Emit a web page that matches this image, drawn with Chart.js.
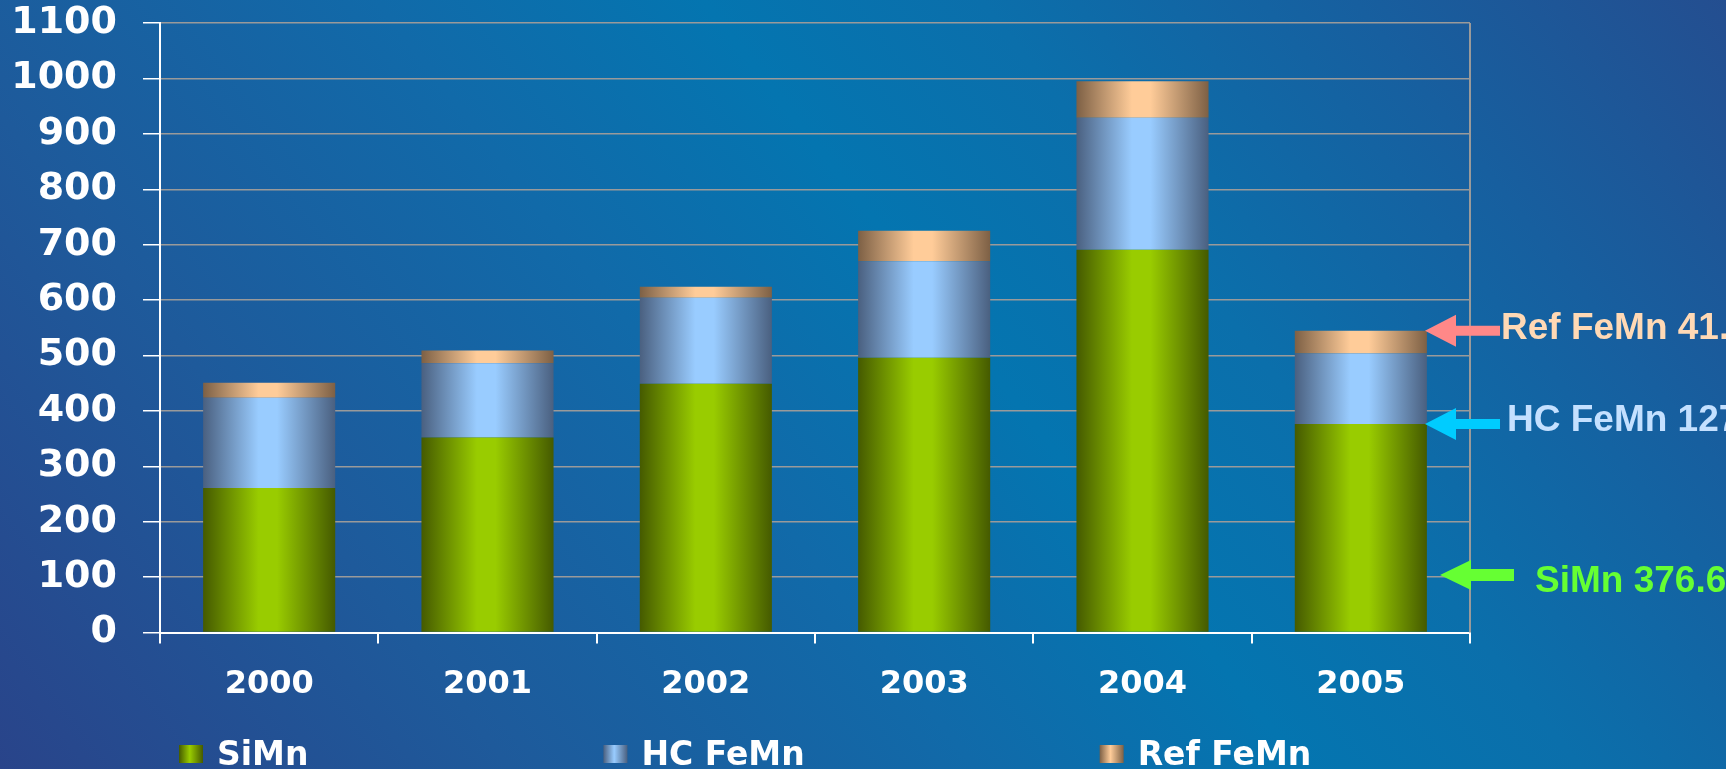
<!DOCTYPE html>
<html>
<head>
<meta charset="utf-8">
<script src="https://cdn.jsdelivr.net/npm/chart.js@4.4.0/dist/chart.umd.min.js"></script>
<style>
  html, body { margin: 0; padding: 0; }
  body {
    width: 1726px; height: 769px; overflow: hidden;
    background: linear-gradient(52deg, #29448a 0%, #1e5a9b 22%, #116aa9 42%, #0475b0 56%, #0b6fab 68%, #175f9f 84%, #244e90 100%);
  }
  canvas { display: block; }
</style>
</head>
<body>
<canvas id="chart" width="1726" height="769"></canvas>
<script>
// years on the x axis
const years = ["2000", "2001", "2002", "2003", "2004", "2005"];
// stacked series (thousand tonnes)
const siMn = [261, 352, 449, 496, 691, 376.6];
const hcFeMn = [163, 134, 155, 174, 238, 127];
const refFeMn = [27, 23, 20, 55, 66, 41];
const seriesNames = ["SiMn", "HC FeMn", "Ref FeMn"];
// y axis range
const yMax = 1100;
const yStep = 100;
// call-out texts on the right, and the value each arrow points at
const calloutTexts = ["Ref FeMn 41.", "HC FeMn 127", "SiMn 376.6"];
const calloutValues = [siMn[5] + hcFeMn[5] + refFeMn[5], siMn[5], 104];

const BAR_FRACTION = 0.605;
const shades = [
    ["#455a00", "#99cc00"],   // green
    ["#4a6080", "#99ccff"],   // blue
    ["#7d6045", "#ffcc99"],   // peach
];
const boldFont = "DejaVu Sans";

// horizontal gradient across a single bar, so it looks like a cylinder
function barFill(pair) {
    return (ctx) => {
        const chart = ctx.chart;
        const x = chart.scales.x;
        if (!chart.chartArea || !x || ctx.dataIndex === undefined) return pair[1];
        const center = x.getPixelForValue(ctx.dataIndex);
        const half = (chart.chartArea.width / years.length) * BAR_FRACTION / 2;
        const g = chart.ctx.createLinearGradient(center - half, 0, center + half, 0);
        g.addColorStop(0, pair[0]);
        g.addColorStop(0.42, pair[1]);
        g.addColorStop(0.56, pair[1]);
        g.addColorStop(1, pair[0]);
        return g;
    };
}

//right border, arrows with call-outs, legend
const extras = {
    id: "extras",
    afterDraw(chart) {
        const c = chart.ctx;
        const area = chart.chartArea;
        const y = chart.scales.y;
        const R = area.right;
        c.save();

        // right border of the plot
        c.strokeStyle = "#9a9a9a";
        c.lineWidth = 2;
        c.beginPath();
        c.moveTo(R, area.top);
        c.lineTo(R, area.bottom);
        c.stroke();

        const arrows = [
            { tip: R - 45, back: R - 14, end: R + 30, sh: 5, hh: 16, color: "#ff8888", text: "#ffd9b5", tx: R + 31, dy: -2 },
            { tip: R - 45, back: R - 14, end: R + 30, sh: 5, hh: 16, color: "#00ccff", text: "#c4e0ff", tx: R + 37, dy: -3 },
            { tip: R - 30, back: R + 1, end: R + 44, sh: 6, hh: 15, color: "#66ff33", text: "#66ff33", tx: R + 65, dy: 7 },
        ];
        arrows.forEach((a, i) => {
            const py = y.getPixelForValue(calloutValues[i]);
            c.fillStyle = a.color;
            c.beginPath();
            c.moveTo(a.tip, py);
            c.lineTo(a.back, py - a.hh);
            c.lineTo(a.back, py - a.sh);
            c.lineTo(a.end, py - a.sh);
            c.lineTo(a.end, py + a.sh);
            c.lineTo(a.back, py + a.sh);
            c.lineTo(a.back, py + a.hh);
            c.closePath();
            c.fill();
            c.fillStyle = a.text;
            c.font = "bold 37px 'Liberation Sans'";
            c.textBaseline = "middle";
            c.textAlign = "left";
            c.fillText(calloutTexts[i], a.tx, py + a.dy);
        });

        // legend
        c.font = "bold 33px " + boldFont;
        c.textBaseline = "middle";
        let lx = area.left + 19;
        const ly = chart.height - 14;
        seriesNames.forEach((name, i) => {
            const g = c.createLinearGradient(lx, 0, lx + 24, 0);
            g.addColorStop(0, shades[i][0]);
            g.addColorStop(0.45, shades[i][1]);
            g.addColorStop(1, shades[i][0]);
            c.fillStyle = g;
            c.fillRect(lx, ly - 10, 24, 18);
            c.fillStyle = "#ffffff";
            c.fillText(name, lx + 38, ly + 1);
            lx += 38 + c.measureText(name).width + 295;
        });
        c.restore();
    },
};

const datasets = [siMn, hcFeMn, refFeMn].map((values, i) => ({
    label: seriesNames[i],
    data: values,
    backgroundColor: barFill(shades[i]),
    borderWidth: 0,
    barPercentage: BAR_FRACTION,
    categoryPercentage: 1,
}));

new Chart(document.getElementById("chart"), {
    type: "bar",
    data: { labels: years, datasets: datasets },
    plugins: [extras],
    options: {
        responsive: false,
        animation: false,
        layout: { padding: { left: 0, right: 256, top: 0, bottom: 43 } },
        plugins: {
            legend: { display: false },
            tooltip: { enabled: false },
        },
        scales: {
            x: {
                stacked: true,
                grid: {
                    offset: true,
                    drawOnChartArea: false,
                    color: "#ffffff",
                    lineWidth: 2,
                    tickLength: 11,
                },
                border: { color: "#ffffff", width: 2 },
                ticks: {
                    color: "#ffffff",
                    font: { family: boldFont, weight: "bold", size: 32 },
                    padding: 22,
                },
            },
            y: {
                stacked: true,
                min: 0,
                max: yMax,
                afterFit: (s) => { s.width = 160; s.paddingTop = 23; },
                grid: {
                    color: "#9a9a9a",
                    lineWidth: 1.5,
                    tickColor: "#ffffff",
                    tickLength: 17,
                },
                border: { color: "#ffffff", width: 2 },
                ticks: {
                    stepSize: yStep,
                    color: "#ffffff",
                    font: { family: boldFont, weight: "bold", size: 38 },
                    padding: 26,
                    callback: (v) => String(v),
                },
            },
        },
    },
});
</script>
</body>
</html>
